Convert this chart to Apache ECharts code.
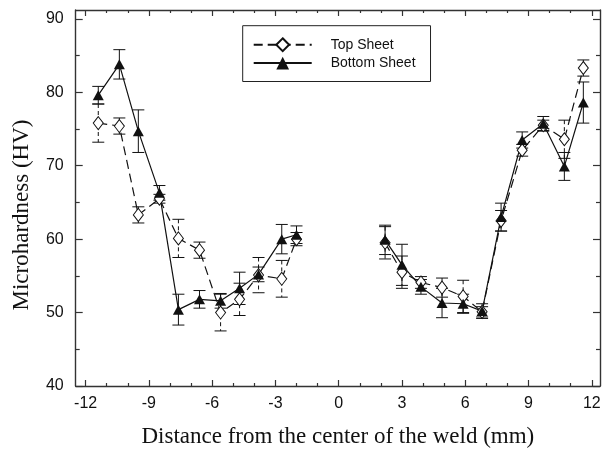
<!DOCTYPE html>
<html>
<head>
<meta charset="utf-8">
<script src="https://cdn.jsdelivr.net/npm/echarts@6/dist/echarts.min.js"></script>
<style>
  html, body { margin: 0; padding: 0; background: #fff; }
  #chart { width: 605px; height: 456px; }
</style>
</head>
<body>
<div id="chart"></div>
<script>
// Measurement positions (mm from weld centre), left and right of the nugget
const xLeft  = [-11.4, -10.4, -9.5, -8.5, -7.6, -6.6, -5.6, -4.7, -3.8, -2.7, -2.0];
const xRight = [2.2, 3.0, 3.9, 4.9, 5.9, 6.8, 7.7, 8.7, 9.7, 10.7, 11.6];

// Top sheet hardness (HV) and standard deviation
const topLeft     = [75.8, 75.4, 63.3, 65.5, 60.1, 58.5, 50.0, 51.8, 55.1, 54.6, 60.0];
const topLeftErr  = [2.6, 1.1, 1.1, 0.6, 2.6, 1.1, 2.5, 2.2, 2.4, 2.5, 0.9];
const topRight    = [59.5, 55.5, 54.1, 53.4, 52.2, 50.1, 62.5, 72.1, 75.5, 73.6, 83.3];
const topRightErr = [2.2, 2.2, 0.8, 1.3, 2.2, 0.7, 1.4, 0.8, 0.7, 2.6, 1.1];

// Bottom sheet hardness (HV) and standard deviation
const botLeft     = [79.6, 83.8, 74.7, 66.3, 50.4, 51.8, 51.6, 53.3, 55.2, 60.0, 60.6];
const botLeftErr  = [1.2, 2.0, 2.9, 1.0, 2.1, 1.2, 1.0, 2.2, 1.0, 2.0, 1.2];
const botRight    = [59.9, 56.5, 53.5, 51.3, 51.2, 50.2, 63.0, 73.5, 75.7, 69.9, 78.6];
const botRightErr = [2.0, 2.8, 1.0, 2.0, 1.3, 1.0, 1.9, 1.1, 1.0, 1.9, 2.8];

// Tick positions
const xMajorTicks = [-12, -9, -6, -3, 0, 3, 6, 9, 12];
const xMinorTicks = [-11, -10, -8, -7, -5, -4, -2, -1, 1, 2, 4, 5, 7, 8, 10, 11];
const yMajorTicks = [40, 50, 60, 70, 80, 90];
const yMinorTicks = [45, 55, 65, 75, 85];

const X_MIN = -12.47, X_MAX = 12.39, Y_MIN = 40, Y_MAX = 91.2;
const INK = '#111';
const FRAME = '#333';

function joinSides(xa, ya, xb, yb) {
  return xa.map((x, i) => [x, ya[i]])
    .concat([['-', '-']])
    .concat(xb.map((x, i) => [x, yb[i]]));
}

function errorData(xa, ya, ea, xb, yb, eb) {
  const rows = [];
  xa.forEach((x, i) => rows.push([x, ya[i] - ea[i], ya[i] + ea[i]]));
  xb.forEach((x, i) => rows.push([x, yb[i] - eb[i], yb[i] + eb[i]]));
  return rows;
}

function errorBars(name, data, dashed) {
  return {
    type: 'custom',
    name: name,
    silent: true,
    z: 1,
    encode: { x: 0, y: [1, 2] },
    data: data,
    renderItem: function (params, api) {
      const lo = api.coord([api.value(0), api.value(1)]);
      const hi = api.coord([api.value(0), api.value(2)]);
      const w = 6;
      const stem = { stroke: INK, lineWidth: 1, lineDash: dashed ? [4, 3] : null };
      const cap = { stroke: INK, lineWidth: 1 };
      return {
        type: 'group',
        children: [
          { type: 'line', shape: { x1: hi[0], y1: hi[1], x2: lo[0], y2: lo[1] }, style: stem },
          { type: 'line', shape: { x1: hi[0] - w, y1: hi[1], x2: hi[0] + w, y2: hi[1] }, style: cap },
          { type: 'line', shape: { x1: lo[0] - w, y1: lo[1], x2: lo[0] + w, y2: lo[1] }, style: cap }
        ]
      };
    }
  };
}

function tickAxis(kind, position, ticks, len, showLine) {
  const range = kind === 'x' ? { min: X_MIN, max: X_MAX } : { min: Y_MIN, max: Y_MAX };
  return Object.assign({
    type: 'value',
    position: position,
    axisLine: { show: showLine, onZero: false, lineStyle: { color: FRAME, width: 1.4 } },
    axisTick: { show: true, inside: true, length: len, customValues: ticks, lineStyle: { color: FRAME, width: 1.2 } },
    axisLabel: { show: false },
    splitLine: { show: false }
  }, range);
}

const chart = echarts.init(document.getElementById('chart'), null, { renderer: 'canvas' });

const xMain = tickAxis('x', 'bottom', xMajorTicks, 6, true);
xMain.axisLabel = {
  show: true, customValues: xMajorTicks, margin: 10,
  fontSize: 16, color: INK, fontFamily: 'Liberation Sans, Arial, sans-serif'
};
xMain.name = 'Distance from the center of the weld (mm)';
xMain.nameLocation = 'middle';
xMain.nameGap = 39;
xMain.nameTextStyle = { fontSize: 23, color: INK, fontFamily: 'Liberation Serif, Times New Roman, serif' };

const yMain = tickAxis('y', 'left', yMajorTicks, 7, true);
yMain.axisLabel = {
  show: true, customValues: yMajorTicks, margin: 12,
  fontSize: 16, color: INK, fontFamily: 'Liberation Sans, Arial, sans-serif'
};
yMain.name = 'Microhardness (HV)';
yMain.nameLocation = 'middle';
yMain.nameGap = 42;
yMain.nameTextStyle = { fontSize: 23, color: INK, fontFamily: 'Liberation Serif, Times New Roman, serif', padding: [0, 34, 0, 0] };

chart.setOption({
  animation: false,
  backgroundColor: '#fff',
  grid: { left: 75.7, right: 5, top: 10, bottom: 70, containLabel: false },
  legend: {
    orient: 'vertical',
    left: 242.7,
    top: 25.7,
    data: ['Top Sheet', 'Bottom Sheet'],
    itemWidth: 58,
    itemHeight: 16,
    itemGap: 4,
    padding: [11.6, 15, 11.4, 10],
    borderColor: '#222',
    borderWidth: 1,
    textStyle: { fontSize: 14, color: INK, fontFamily: 'Liberation Sans, Arial, sans-serif', padding: [0, 0, 0, 14], lineHeight: 14 }
  },
  xAxis: [
    xMain,
    tickAxis('x', 'bottom', xMinorTicks, 3, false),
    tickAxis('x', 'top', xMajorTicks, 6, true),
    tickAxis('x', 'top', xMinorTicks, 3, false)
  ],
  yAxis: [
    yMain,
    tickAxis('y', 'left', yMinorTicks, 4, false),
    tickAxis('y', 'right', yMajorTicks, 7, true),
    tickAxis('y', 'right', yMinorTicks, 4, false)
  ],
  series: [
    errorBars('Top Sheet SD', errorData(xLeft, topLeft, topLeftErr, xRight, topRight, topRightErr), true),
    errorBars('Bottom Sheet SD', errorData(xLeft, botLeft, botLeftErr, xRight, botRight, botRightErr), false),
    {
      name: 'Top Sheet',
      type: 'line',
      z: 3,
      data: joinSides(xLeft, topLeft, xRight, topRight),
      connectNulls: false,
      symbol: 'diamond',
      symbolSize: [10, 13],
      showAllSymbol: true,
      itemStyle: { color: '#fff', borderColor: INK, borderWidth: 1 },
      lineStyle: { color: INK, width: 1.2, type: [9, 5] }
    },
    {
      name: 'Bottom Sheet',
      type: 'line',
      z: 3,
      data: joinSides(xLeft, botLeft, xRight, botRight),
      connectNulls: false,
      symbol: 'triangle',
      symbolSize: [11, 10],
      showAllSymbol: true,
      itemStyle: { color: INK, borderColor: INK, borderWidth: 0 },
      lineStyle: { color: INK, width: 1.2, type: 'solid' }
    }
  ]
});
</script>
</body>
</html>
